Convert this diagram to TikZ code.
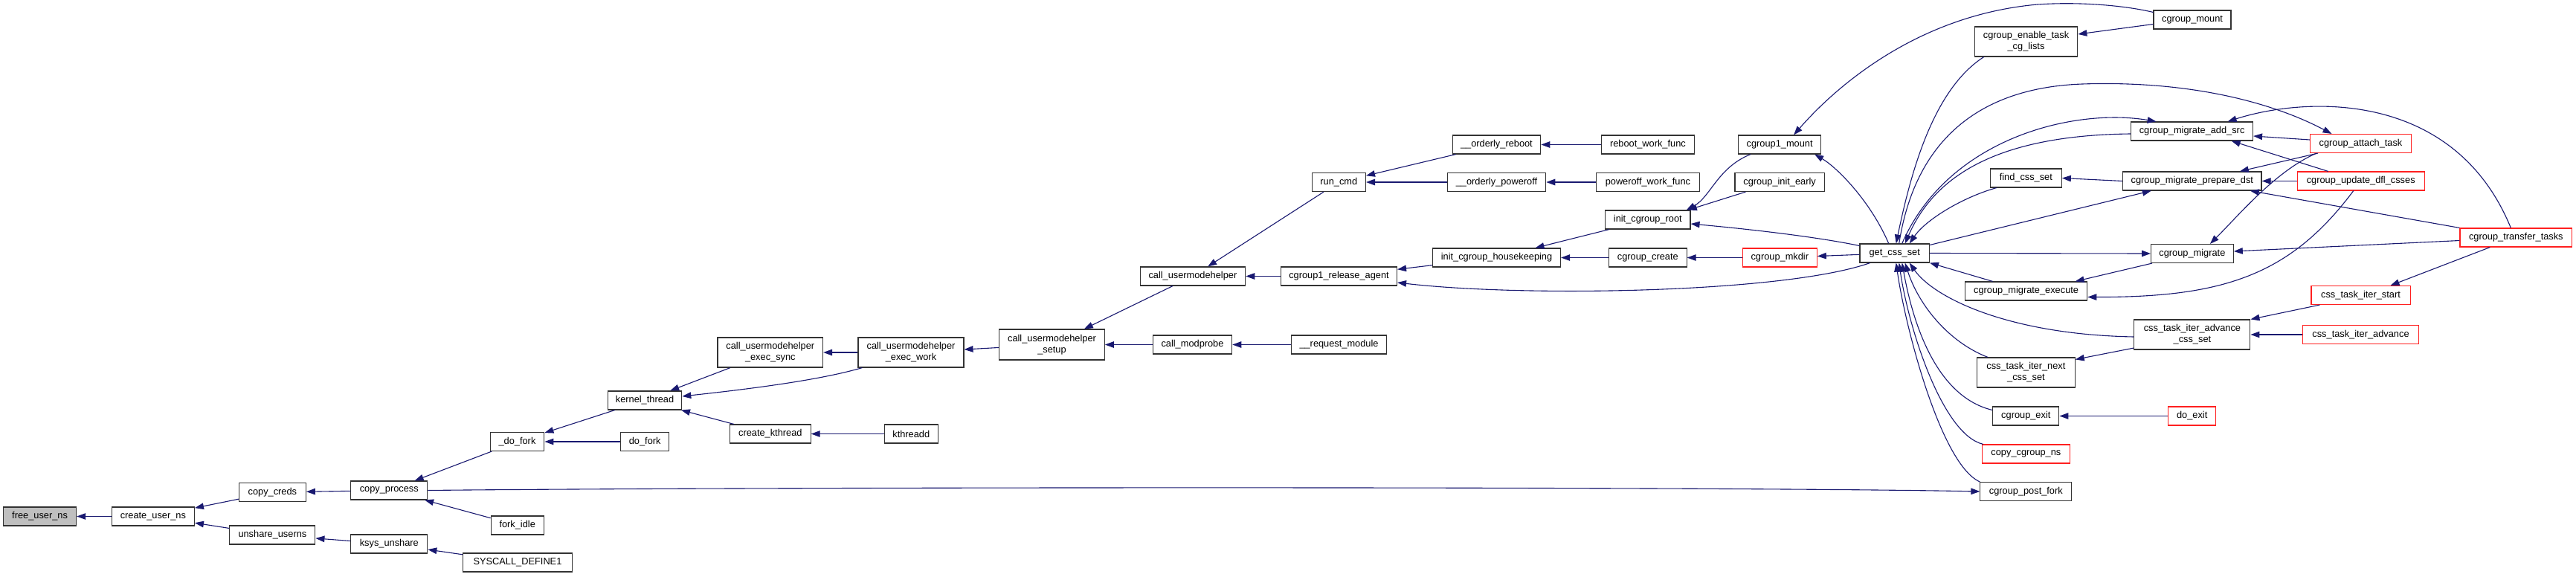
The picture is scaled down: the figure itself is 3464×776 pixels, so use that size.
\documentclass[tikz,border=0pt]{standalone}
\usepackage{fontspec}
\setmainfont{Liberation Sans}
\usetikzlibrary{arrows.meta}
\definecolor{edgec}{HTML}{191970}
\definecolor{boxc}{HTML}{333333}
\definecolor{redc}{HTML}{FF2020}
\definecolor{greyfill}{HTML}{BFBFBF}
\begin{document}
\begin{tikzpicture}[x=1pt,y=-1pt,
  fn/.style={draw=boxc, line width=1.1pt, fill=white, rectangle, inner sep=0pt,
    minimum height=25pt, align=center, font=\fontsize{12.8}{15}\selectfont},
  fnred/.style={fn, draw=redc},
  bk/.style={draw=edgec, line width=1.1pt, {Triangle[length=12pt,width=8.5pt]}-},
  fw/.style={draw=edgec, line width=1.1pt, -{Triangle[length=12pt,width=8.5pt]}}]
\useasboundingbox (0,0) rectangle (3464,776);

% nodes
\node[fn, minimum width=98pt, fill=greyfill] (freeuserns) at (53.6,694.5) {free\_user\_ns};
\node[fn, minimum width=111pt] (createuserns) at (205.9,694.5) {create\_user\_ns};
\node[fn, minimum width=90pt] (copycreds) at (366.4,662) {copy\_creds};
\node[fn, minimum width=115pt] (unshareuserns) at (366.4,719.5) {unshare\_userns};
\node[fn, minimum width=103pt] (copyprocess) at (523.3,659.5) {copy\_process};
\node[fn, minimum width=103pt] (ksysunshare) at (523.3,731.5) {ksys\_unshare};
\node[fn, minimum width=72.7pt] (udofork) at (695.5,594) {\_do\_fork};
\node[fn, minimum width=65.4pt] (dofork) at (867.2,594) {do\_fork};
\node[fn, minimum width=70.8pt] (forkidle) at (695.7,706.5) {fork\_idle};
\node[fn, minimum width=147pt] (syscalldef) at (696,756.5) {SYSCALL\_DEFINE1};
\node[fn, minimum width=99.5pt] (kthread) at (867,538.5) {kernel\_thread};
\node[fn, minimum width=141.6pt, minimum height=40pt] (execsync) at (1035.8,474) {call\_usermodehelper\\\_exec\_sync};
\node[fn, minimum width=108.7pt] (createkthread) at (1035.8,583.5) {create\_kthread};
\node[fn, minimum width=142pt, minimum height=40pt] (execwork) at (1225,474) {call\_usermodehelper\\\_exec\_work};
\node[fn, minimum width=72.3pt] (kthreadd) at (1225.3,583.5) {kthreadd};
\node[fn, minimum width=141.6pt, minimum height=41pt] (setup) at (1414.5,463.5) {call\_usermodehelper\\\_setup};
\node[fn, minimum width=141.6pt] (cuh) at (1603.9,371.5) {call\_usermodehelper};
\node[fn, minimum width=106.4pt] (modprobe) at (1603.5,463.5) {call\_modprobe};
\node[fn, minimum width=156pt] (relagent) at (1800.5,371.5) {cgroup1\_release\_agent};
\node[fn, minimum width=128.4pt] (reqmodule) at (1800.5,463.5) {\_\_request\_module};
\node[fn, minimum width=72.3pt] (runcmd) at (1800.3,245) {run\_cmd};
\node[fn, minimum width=118.7pt] (oreboot) at (2012.4,194.5) {\_\_orderly\_reboot};
\node[fn, minimum width=132.4pt] (opoweroff) at (2012.5,245) {\_\_orderly\_poweroff};
\node[fn, minimum width=172.1pt] (housekeeping) at (2012.5,346.5) {init\_cgroup\_housekeeping};
\node[fn, minimum width=125.1pt] (rebootwf) at (2215.9,194.5) {reboot\_work\_func};
\node[fn, minimum width=138.9pt] (poweroffwf) at (2215.9,245) {poweroff\_work\_func};
\node[fn, minimum width=114.4pt] (icroot) at (2215.8,295.5) {init\_cgroup\_root};
\node[fn, minimum width=104.5pt] (cgcreate) at (2215.8,346.5) {cgroup\_create};
\node[fn, minimum width=111pt] (cgonemount) at (2393.1,194.5) {cgroup1\_mount};
\node[fn, minimum width=120.2pt] (cgearly) at (2393.1,245) {cgroup\_init\_early};
\node[fnred, minimum width=99.9pt] (cgmkdir) at (2393.3,346.5) {cgroup\_mkdir};
\node[fn, minimum width=93.4pt] (getcss) at (2547.7,340.5) {get\_css\_set};
\node[fn, minimum width=138.5pt, minimum height=40pt] (cgenable) at (2724.5,56) {cgroup\_enable\_task\\\_cg\_lists};
\node[fn, minimum width=96pt] (findcss) at (2724.3,239.5) {find\_css\_set};
\node[fn, minimum width=164.2pt] (migexec) at (2724.6,391.5) {cgroup\_migrate\_execute};
\node[fn, minimum width=131.6pt, minimum height=40pt] (nextcss) at (2724.4,501) {css\_task\_iter\_next\\\_css\_set};
\node[fn, minimum width=89.2pt] (cgexit) at (2724.3,559.5) {cgroup\_exit};
\node[fnred, minimum width=117.9pt] (copyns) at (2724.4,610.5) {copy\_cgroup\_ns};
\node[fn, minimum width=122.8pt] (postfork) at (2724.3,661) {cgroup\_post\_fork};
\node[fn, minimum width=104pt] (cgmount) at (2948,26.5) {cgroup\_mount};
\node[fn, minimum width=163.8pt] (addsrc) at (2947.6,176.5) {cgroup\_migrate\_add\_src};
\node[fn, minimum width=186.4pt] (prepdst) at (2947.8,243.5) {cgroup\_migrate\_prepare\_dst};
\node[fn, minimum width=110.7pt] (cgmigrate) at (2947.9,341) {cgroup\_migrate};
\node[fn, minimum width=156pt, minimum height=40pt] (advcss) at (2947.9,450) {css\_task\_iter\_advance\\\_css\_set};
\node[fnred, minimum width=64.4pt] (doexit) at (2947.7,559.5) {do\_exit};
\node[fnred, minimum width=136pt] (attach) at (3174.5,193) {cgroup\_attach\_task};
\node[fnred, minimum width=170.9pt] (updfl) at (3174.7,243.5) {cgroup\_update\_dfl\_csses};
\node[fnred, minimum width=133.1pt] (iterstart) at (3174.5,397) {css\_task\_iter\_start};
\node[fnred, minimum width=156.1pt] (iteradv) at (3174.5,450) {css\_task\_iter\_advance};
\node[fnred, minimum width=150.7pt] (transfer) at (3383.3,319.5) {cgroup\_transfer\_tasks};

% edges (arrow at first node)
\draw[bk] (freeuserns) -- (createuserns);
\draw[bk] (createuserns) -- (copycreds);
\draw[bk] (createuserns) -- (unshareuserns);
\draw[bk] (copycreds) -- (copyprocess);
\draw[bk] (unshareuserns) -- (ksysunshare);
\draw[bk] (copyprocess) -- (udofork);
\draw[bk] (copyprocess) -- (forkidle);
\draw[bk] (ksysunshare) -- (syscalldef);
\draw[fw] (copyprocess.east) .. controls (1000,655) and (2300,654) .. (postfork.west);
\draw[bk] (udofork) -- (kthread);
\draw[bk] (udofork) -- (dofork);
\draw[bk] (kthread) -- (execsync);
\draw[bk] ([yshift=5.5pt]kthread.east) .. controls (1000,524) and (1100,512) .. ([xshift=6pt]execwork.south west);
\draw[bk] (kthread) -- (createkthread);
\draw[bk] (createkthread) -- (kthreadd);
\draw[bk] (execsync) -- (execwork);
\draw[bk] (execwork) -- (setup);
\draw[bk] (setup) -- (cuh);
\draw[bk] (setup) -- (modprobe);
\draw[bk] (modprobe) -- (reqmodule);
\draw[bk] (cuh) -- (runcmd);
\draw[bk] (cuh) -- (relagent);
\draw[bk] (runcmd) -- (oreboot);
\draw[bk] (runcmd) -- (opoweroff);
\draw[bk] (oreboot) -- (rebootwf);
\draw[bk] (opoweroff) -- (poweroffwf);
\draw[bk] (relagent) -- (housekeeping);
\draw[bk] ([yshift=-8.5pt]relagent.east) .. controls (2050,400) and (2400,394) .. ([xshift=-33pt]getcss.south);
\draw[bk] (housekeeping) -- (icroot);
\draw[bk] (housekeeping) -- (cgcreate);
\draw[bk] (cgcreate) -- (cgmkdir);
\draw[bk] (cgmkdir) -- (getcss);
\draw[bk] ([xshift=52pt]icroot.north) .. controls (2300,265) and (2310,225) .. ([xshift=17pt]cgonemount.south west);
\draw[bk] ([xshift=54pt]icroot.north) -- ([xshift=15pt]cgearly.south west);
\draw[bk] ([yshift=-5.5pt]icroot.east) .. controls (2350,308) and (2440,318) .. ([yshift=10pt]getcss.west);
\draw[bk] ([xshift=47pt]cgonemount.south) .. controls (2470,225) and (2515,270) .. ([xshift=-8pt]getcss.north);
\draw[bk] ([xshift=19pt]cgonemount.north) .. controls (2470,115) and (2580,20) .. (2740,6) .. controls (2800,2) and (2860,8) .. ([yshift=10pt]cgmount.west);
\draw[bk] ([xshift=2pt]getcss.north) .. controls (2570,230) and (2600,120) .. ([xshift=13pt]cgenable.south west);
\draw[bk] ([yshift=10pt]cgenable.east) -- ([yshift=-6pt]cgmount.west);
\draw[bk] ([xshift=-39pt]attach.north) .. controls (3060,140) and (2950,108) .. (2800,113) .. controls (2660,118) and (2575,190) .. ([xshift=6pt]getcss.north);
\draw[bk] ([xshift=-48pt]addsrc.north) .. controls (2790,145) and (2620,185) .. ([xshift=10pt]getcss.north);
\draw[bk] ([xshift=14pt]getcss.north) .. controls (2600,240) and (2680,182) .. ([yshift=-3.5pt]addsrc.west);
\draw[bk] ([xshift=-55pt]prepdst.south) -- ([yshift=11pt]getcss.east);
\draw[bk] (findcss.east) -- (prepdst.west);
\draw[bk] ([xshift=20pt]getcss.north) .. controls (2590,295) and (2640,265) .. ([xshift=9pt]findcss.south west);
\draw[fw] (getcss.east) -- (cgmigrate.west);
\draw[bk] (getcss.south east) -- ([xshift=-45pt]migexec.north);
\draw[bk] ([xshift=66pt]migexec.north) -- ([xshift=2pt]cgmigrate.south west);
\draw[bk] ([yshift=-8pt]migexec.east) .. controls (2990,400) and (3080,370) .. ([xshift=-10pt]updfl.south);
\draw[bk] ([xshift=20pt]getcss.south) .. controls (2600,400) and (2700,450) .. ([yshift=-3pt]advcss.west);
\draw[bk] ([yshift=-3pt]nextcss.north east) -- ([yshift=-18pt]advcss.west);
\draw[bk] ([xshift=14pt]getcss.south) .. controls (2580,410) and (2620,460) .. ([xshift=15pt]nextcss.north west);
\draw[bk] ([xshift=10pt]getcss.south) .. controls (2575,450) and (2610,535) .. ([yshift=8pt]cgexit.west);
\draw[bk] ([xshift=6pt]getcss.south) .. controls (2566,440) and (2612,585) .. ([xshift=2pt]copyns.north west);
\draw[bk] ([xshift=2pt]getcss.south) .. controls (2562,440) and (2610,625) .. (postfork.north west);
\draw[bk] (cgexit) -- (doexit);
\draw[bk] ([xshift=48pt]addsrc.north) .. controls (3100,130) and (3300,120) .. ([xshift=-7pt]transfer.north);
\draw[bk] ([yshift=-6.5pt]addsrc.east) -- ([yshift=5pt]attach.west);
\draw[bk] ([xshift=53pt]addsrc.south) -- ([xshift=-44pt]updfl.north);
\draw[bk] ([xshift=64pt]prepdst.north) -- ([xshift=11pt]attach.south west);
\draw[bk] (prepdst.east) -- (updfl.west);
\draw[bk] ([xshift=78pt]prepdst.south) -- (transfer.north west);
\draw[bk] ([xshift=24pt]cgmigrate.north) .. controls (3010,290) and (3060,230) .. ([xshift=9pt]attach.south west);
\draw[bk] ([yshift=3pt]cgmigrate.east) -- ([yshift=-4pt]transfer.west);
\draw[bk] ([xshift=40pt]iterstart.north) -- ([xshift=-35pt]transfer.south);
\draw[bk] (advcss.north east) -- ([xshift=12pt]iterstart.south west);
\draw[bk] (advcss.east) -- (iteradv.west);
\end{tikzpicture}
\end{document}
